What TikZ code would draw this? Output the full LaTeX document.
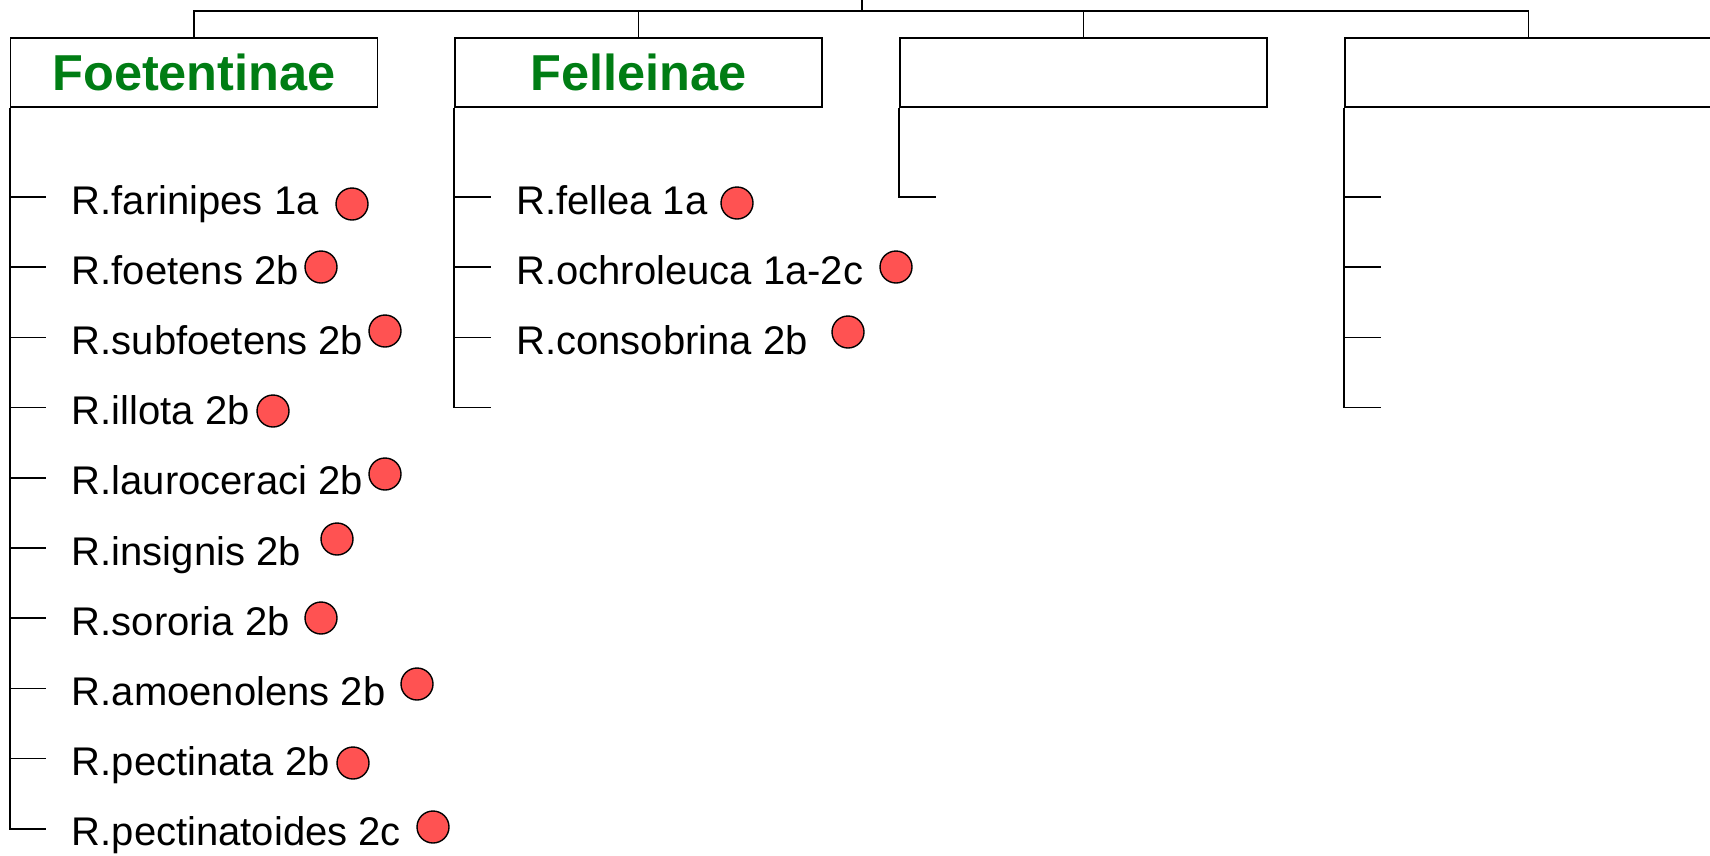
\documentclass[tikz,border=0pt]{standalone}
\usepackage{fontspec}
\setmainfont{Liberation Sans}
\definecolor{hdr}{RGB}{0,125,20}
\definecolor{dotred}{RGB}{255,82,82}
\begin{document}
\begin{tikzpicture}[x=1pt,y=-1pt,line width=1.6pt,
  box/.style={draw,minimum width=367pt,minimum height=69pt,inner sep=0pt,
    font=\fontsize{50.5}{56}\selectfont\bfseries,text=hdr},
  sp/.style={anchor=base west,inner sep=0pt,font=\fontsize{40}{44}\selectfont},
  dotn/.style={circle,draw,fill=dotred,minimum size=32pt,inner sep=0pt,line width=1.4pt}]
\useasboundingbox (0,0) rectangle (1710,855);
% boxes
\node[box] (b1) at (194,72.5) {Foetentinae};
\node[box] (b2) at (638.5,72.5) {Felleinae};
\node[box] (b3) at (1083.5,72.5) {};
\node[box] (b4) at (1528.5,72.5) {};
% root
\coordinate (root) at (862,0);
\coordinate (rj) at (862,11);
\draw (root) -- (rj);
\draw (rj) -| (b1.north);
\draw (rj) -| (b2.north);
\draw (rj) -| (b3.north);
\draw (rj) -| (b4.north);
% column 1
\foreach \i/\t/\dx/\dy in {
  0/R.farinipes 1a/352/204,
  1/R.foetens 2b/321/267,
  2/R.subfoetens 2b/385/331,
  3/R.illota 2b/273/411,
  4/R.lauroceraci 2b/385/474,
  5/R.insignis 2b/337/539,
  6/R.sororia 2b/321/618,
  7/R.amoenolens 2b/417/684,
  8/R.pectinata 2b/353/763,
  9/R.pectinatoides 2c/433/827} {
  \coordinate (a\i) at (46,197+70.2*\i);
  \draw (b1.south west) |- (a\i);
  \node[sp] (at\i) at (71,214+70.2*\i) {\t};
  \node[dotn] (ad\i) at (\dx,\dy) {};
}
% column 2
\foreach \i/\t/\dx/\dy in {
  0/R.fellea 1a/737/203,
  1/R.ochroleuca 1a-2c/896/267,
  2/R.consobrina 2b/848/332} {
  \node[sp] (bt\i) at (515.5,214+70.2*\i) {\t};
  \node[dotn] (bd\i) at (\dx,\dy) {};
}
\foreach \i in {0,1,2,3} {
  \coordinate (c\i) at (491,197+70.2*\i);
  \draw (b2.south west) |- (c\i);
}
% column 3
\coordinate (e0) at (936,197);
\draw (b3.south west) |- (e0);
% column 4
\foreach \i in {0,1,2,3} {
  \coordinate (f\i) at (1381,197+70.2*\i);
  \draw (b4.south west) |- (f\i);
}
\end{tikzpicture}
\end{document}
